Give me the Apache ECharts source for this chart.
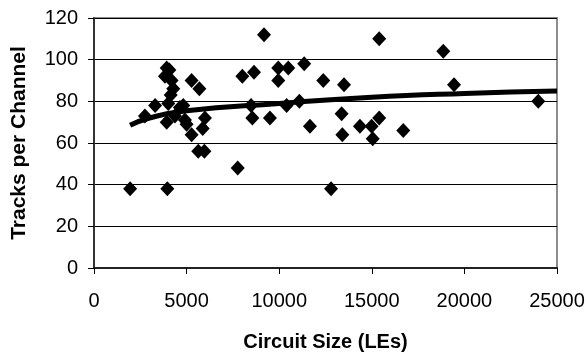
<!DOCTYPE html>
<html>
<head>
<meta charset="utf-8">
<script src="https://cdn.jsdelivr.net/npm/echarts@6/dist/echarts.min.js"></script>
<style>
  html, body { margin: 0; padding: 0; background: #fff; }
  #chart { width: 587px; height: 356px; }
</style>
</head>
<body>
<div id="chart"></div>
<script>
// circuit sizes (LEs) and tracks per channel
const circuitSizes = [
  1950, 3960, 2750, 3300, 3925, 3830, 4070, 4190, 4280, 4140, 4010, 4820, 4640,
  3925, 4370, 4910, 5000, 5270, 5270, 5690, 5990, 5870, 5630, 5960, 7760, 8010,
  8640, 8480, 8550, 9180, 9500, 9950, 9950, 10490, 10400, 11090, 11350, 11660,
  12380, 12800, 13500, 13370, 13410, 14360, 14990, 15050, 15400, 15400, 16700,
  18860, 19440, 23990,
];
const tracks = [
  38, 38, 73, 78, 96, 92, 95, 90, 86, 83, 79, 78, 77,
  70, 73, 71, 69, 64, 90, 86, 72, 67, 56, 56, 48, 92,
  94, 78, 72, 112, 72, 96, 90, 96, 78, 80, 98, 68,
  90, 38, 88, 74, 64, 68, 68, 62, 72, 110, 66,
  104, 88, 80,
];
// trend line read at a few sizes
const trendSizes = [1950, 3000, 5000, 10000, 15000, 20000, 25000];
const trendTracks = [68.5, 72, 75.5, 79, 82, 83.8, 85];

const xTicks = [0, 5000, 10000, 15000, 20000, 25000];
const yTicks = [0, 20, 40, 60, 80, 100, 120];

const chart = echarts.init(document.getElementById("chart"));
const font = "Liberation Sans, Arial, sans-serif";

chart.setOption({
  animation: false,
  grid: {
    left: 94,
    right: 30,
    top: 18,
    bottom: 88,
    outerBoundsMode: "none",
    containLabel: false,
    show: true,
    borderColor: "#8c8c8c",
    borderWidth: 2,
  },
  xAxis: {
    type: "value",
    min: xTicks[0],
    max: xTicks[xTicks.length - 1],
    interval: 5000,
    name: "Circuit Size (LEs)",
    nameLocation: "middle",
    nameGap: 64,
    nameTextStyle: { fontFamily: font, fontSize: 20, fontWeight: "bold", color: "#000" },
    axisLine: { show: true, lineStyle: { color: "#222", width: 2 } },
    axisTick: { show: true, length: 6, lineStyle: { color: "#000" } },
    axisLabel: {
      fontFamily: font, fontSize: 20, color: "#000", margin: 23,
      formatter: (v) => String(v),
    },
    splitLine: { show: false },
  },
  yAxis: {
    type: "value",
    min: yTicks[0],
    max: yTicks[yTicks.length - 1],
    interval: 20,
    name: "Tracks per Channel",
    nameLocation: "middle",
    nameGap: 64,
    nameTextStyle: { fontFamily: font, fontSize: 21, fontWeight: "bold", color: "#000" },
    axisLine: { show: true, lineStyle: { color: "#333", width: 2 } },
    axisTick: { show: true, length: 6, lineStyle: { color: "#000" } },
    axisLabel: { fontFamily: font, fontSize: 20, color: "#000", margin: 16 },
    splitLine: { show: true, lineStyle: { color: "#000", width: 1 } },
  },
  series: [
    {
      type: "scatter",
      symbol: "diamond",
      symbolSize: [14, 15],
      itemStyle: { color: "#000", opacity: 1 },
      data: circuitSizes.map((s, i) => [s, tracks[i]]),
      z: 2,
    },
    {
      type: "line",
      smooth: true,
      showSymbol: false,
      lineStyle: { color: "#000", width: 5 },
      data: trendSizes.map((s, i) => [s, trendTracks[i]]),
      z: 3,
    },
  ],
});
</script>
</body>
</html>
